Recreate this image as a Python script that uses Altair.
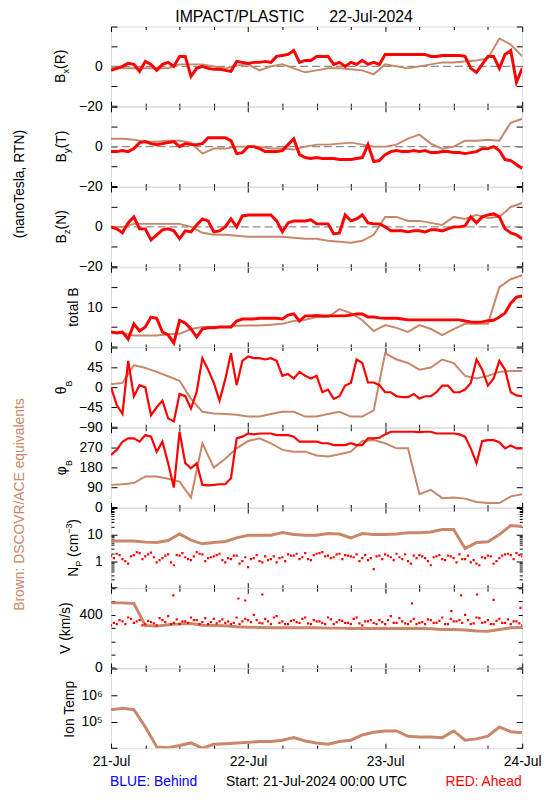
import altair as alt
import pandas as pd

# ---------------- data (hours since 21-Jul-2024 00:00 UTC) ----------------
H1 = list(range(73))              # hourly grid
H2 = list(range(0, 73, 2))        # two-hourly grid
HH = [h + 0.5 for h in range(72)]  # half-hour offsets

bx_red = [-2, -1, 0, 1.5, 1, -2.5, 2.5, 1, -2, 1,
          2, 0, 5, 5, -5, -1, 0, -1, -1.5, -1.5,
          -2, -2.5, 2.5, 2, 1.5, 2, 2, 2.5, 2, 5,
          5.5, 6, 8, 2, 3, 3, 5, 5, 5, 1,
          2, 0, 2, 1, 3, 1, 2, 1, 6, 6,
          6, 6, 6, 6, 6, 6, 5, 5, 5.5, 5.5,
          5.5, 5.5, 5, -1, -3, 1, 5, 5, -1, 6,
          8, -8, -1]
bx_brown = [-1, -1, -1, -1, -1, -1, 1, 1, 1, 0,
            -1, 0.5, 1, -2, 0, 1, -1, -3, -2, -1,
            -1, -1.5, -2, -4, 1, 0, -1, 0, 1, 2,
            2, 2.5, 3, 4, 14, 11, 5]

by_red = [-2.5, -2.5, -2, -2.5, -1, 2, 2.5, 1.5, 1, 1.5,
          2, 2.5, 0, 1.5, 1, 1, 1.5, 4.5, 4.5, 4.5,
          4.5, 3, -3.5, -3, 0, 0, -1, -2.5, -2.5, -2.5,
          -2, 1, 4, -4, -5.5, -6, -5.5, -6, -6, -6,
          -6.5, -6.5, -6.5, -6, -5.5, 1, -7.5, -7, -4, -2.5,
          -2, -2.5, -2.5, -2, -2.5, -2, -3, -3, -2.5, -2.5,
          -3, -3, -3.5, -3, -2.5, -1, -1, 0, -2, -6.5,
          -7, -9, -11]
by_brown = [4, 4, 3.5, 2.5, 2.5, 3, 3, 2, -3.5, -1,
            -1, 0, 0, 0, -1, -1, -1.5, 0, 1, 1,
            1.5, 2, 1, 0, 0, 1, 4, 6, 1.5, -1,
            0, 3, 3, 3.5, 3, 12, 14]

bz_red = [0, -1, -3, 2, 5, -1, -1, -6.5, -4, -1.5,
          -1, -2, -6, -2, -2.5, 1, 4, 3, -2.5, -2,
          0, 4, 0, 5.5, 6, 6, 6, 6, 6, 3,
          -2.5, 2, 3, 3, 3, 3.5, 1.5, 1.5, 1.5, -3.5,
          -3, 6, 3, 4, 6, 2, 1.5, 1.5, 0, -2,
          -2, -2, -2.5, -2, -2, -2.5, -1.5, -1.5, -2, -1,
          0, 0, 0.5, 5, 2, 5, 6, 6.5, 5, -1,
          -3, -4, -6]
bz_brown = [0, 0, 1.5, 1.5, 1.5, 1.5, 1.5, 0, -3, -4,
            -4, -4.5, -5, -5, -5, -5, -5.5, -6, -6, -7,
            -7.5, -8, -7, -4, 5, 5, 3, 3, 2, 1,
            5, 4, 6, 4.5, 5, 10, 12]

bt_red = [3.75, 3.5, 3.75, 2, 5.8, 4, 5, 7.5, 7.2, 3.75,
          3, 1, 6.7, 6, 4.5, 2.5, 4.5, 4.8, 4.8, 5,
          5, 5, 6.5, 7, 7, 7, 7.2, 7.2, 7.2, 7.2,
          7, 8, 8.3, 6.5, 7.8, 7.8, 7.9, 7.8, 7.8, 7.8,
          7.8, 7.8, 8, 8.3, 8.3, 7.5, 7.5, 7.3, 7.2, 7.2,
          7.2, 7, 6.8, 6.8, 6.8, 6.8, 6.8, 6.8, 6.8, 6.8,
          6.8, 6.8, 6.5, 6.3, 6.2, 6.3, 6.6, 6.7, 7.5, 8.5,
          11, 12.5, 12.8]
bt_brown = [3.75, 3.5, 2.9, 2.9, 2.9, 3.2, 3.3, 4.5, 5, 5,
            5, 5.3, 5.4, 5.4, 5.6, 5.8, 6.5, 6.8, 7.5, 7.5,
            9.5, 8.5, 6.7, 4, 5.5, 4.8, 3.8, 5.5, 4.5, 3,
            4.5, 5.8, 5.8, 5.8, 15, 17, 18]

th_red = [0, -40, -60, 60, -20, 5, 0, -63, -45, -30,
          -70, -77, -15, -20, -48, -10, 66, 40, 10, -30,
          18, 77, 5, 60, 70, 66, 66, 63, 66, 60,
          26, 30, 20, 35, 26, 20, 26, -11, -5, -26,
          -20, 4, 10, 63, 55, 11, 11, 5, -11, -11,
          -20, -22, -22, -15, -25, -20, -20, -11, 4, 4,
          -11, -11, -5, 10, 63, 40, 4, 20, 60, 40,
          -11, -18, -20]
th_brown = [7, 10, 50, 44, 35, 25, 15, -26, -55, -59,
            -60, -62, -66, -66, -60, -55, -55, -66, -66, -60,
            -55, -66, -66, -52, 77, 63, 55, 40, 45, 63,
            55, 26, 20, 26, 35, 37, 37]

ph_red = [237, 260, 297, 312, 312, 297, 327, 320, 252, 297,
          200, 90, 342, 200, 177, 200, 102, 100, 102, 105,
          105, 132, 312, 320, 334, 330, 334, 334, 334, 327,
          327, 327, 320, 297, 297, 297, 297, 290, 290, 282,
          282, 282, 290, 282, 282, 312, 312, 315, 330, 342,
          342, 342, 342, 342, 340, 342, 342, 334, 334, 334,
          334, 330, 320, 267, 200, 300, 304, 304, 295, 267,
          280, 267, 267]
ph_brown = [102, 105, 110, 140, 140, 130, 117, 45, 290, 180,
            220, 267, 300, 312, 290, 260, 252, 252, 235, 230,
            240, 252, 300, 305, 290, 267, 267, 60, 80, 42,
            45, 40, 25, 20, 20, 50, 60]

np_red = [1.6, 1.9, 1.2, 0.8, 1.7, 2.0, 1.5, 2.1, 0.9, 1.3, 1.8, 0.7,
          1.6, 1.4, 1.1, 2.2, 1.8, 1.3, 1.5, 1.9, 0.9, 1.2, 1.6, 1.0,
          0.6, 1.3, 1.0, 1.5, 1.2, 0.9, 1.4, 1.8, 1.6, 1.2, 2.0, 1.1,
          1.9, 2.2, 1.6, 1.4, 1.9, 1.7, 1.5, 1.8, 1.3, 1.1, 0.5, 1.6,
          1.8, 1.4, 1.9, 1.2, 1.0, 1.6, 1.7, 1.3, 0.7, 1.5, 1.2, 1.6,
          1.3, 1.8, 1.2, 0.9, 0.8, 1.4, 1.6, 0.8, 1.3, 1.8, 1.7, 2.0, 1.5]
np_red_half = [1.3, 1.7, 1.0, 1.5, 2.2, 1.2, 1.8, 1.4, 1.1, 1.6, 0.9, 1.7,
               2.0, 1.2, 1.5, 1.9, 1.0, 1.4, 1.7, 1.1, 1.3, 1.6, 0.8, 1.4,
               1.2, 1.7, 0.9, 1.1, 1.5, 1.3, 1.0, 1.6, 1.9, 1.4, 1.2, 1.7,
               2.0, 1.5, 1.3, 1.8, 1.2, 1.6, 1.4, 1.0, 1.7, 1.3, 1.5, 1.2,
               1.6, 1.1, 1.4, 1.8, 0.8, 1.3, 1.5, 1.0, 1.4, 1.7, 1.1, 1.5,
               0.9, 1.2, 1.6, 1.1, 0.7, 1.3, 1.5, 1.0, 1.6, 1.9, 1.2, 1.7]
np_brown = [5.7, 5.7, 5.7, 5.2, 5.0, 6.0, 10.5, 6.2, 4.5, 5.0,
            5.5, 7.5, 9.4, 9.4, 9.4, 12, 10, 9.4, 9.4, 10.9,
            10.5, 7.5, 10.9, 10, 10, 10.5, 11.8, 11.8, 12.5, 15.6,
            15.6, 3.0, 5.0, 5.4, 10, 22, 20]

v_red = [320, 330, 350, 380, 340, 360, 330, 345, 320, 360,
         390, 340, 330, 350, 380, 360, 345, 330, 370, 350,
         340, 330, 380, 350, 360, 400, 340, 370, 330, 390,
         350, 330, 360, 340, 380, 330, 350, 340, 380, 330,
         360, 340, 330, 380, 320, 350, 340, 360, 330, 390,
         340, 350, 330, 370, 340, 330, 360, 340, 380, 330,
         350, 360, 400, 330, 380, 340, 360, 330, 370, 340,
         330, 350, 320]
v_red_half = [340, 360, 330, 370, 350, 320, 355, 335, 375, 345, 330, 365,
              350, 340, 360, 330, 375, 345, 335, 365, 350, 340, 330, 370,
              345, 360, 335, 350, 380, 340, 330, 355, 345, 370, 335, 360,
              350, 330, 365, 345, 355, 340, 370, 335, 350, 360, 330, 345,
              360, 340, 375, 335, 350, 330, 345, 365, 340, 355, 330, 370,
              350, 340, 360, 335, 375, 345, 330, 355, 340, 365, 350, 335]
v_out_h = [10.9, 22.3, 23.5, 26.5, 52.7, 59.6, 61.3, 64.1, 67.0, 71.7]
v_out = [546, 523, 508, 553, 486, 428, 546, 553, 513, 453]
v_brown = [490, 490, 485, 320, 315, 325, 332, 335, 322, 320,
           318, 310, 307, 305, 303, 302, 302, 302, 302, 300,
           300, 297, 297, 297, 297, 297, 297, 297, 295, 290,
           289, 285, 278, 277, 290, 302, 305]

t_brown = [282000, 316000, 282000, 63000, 11200, 10500, 12600, 15800, 10000, 14100,
           14800, 15800, 16600, 17800, 17800, 20000, 25000, 18600, 15800, 14100,
           17800, 20000, 31600, 39800, 44700, 44700, 28200, 26300, 26300, 25000,
           44700, 20000, 22400, 28200, 63000, 41700, 38000]

DAY_LABELS = ["21-Jul", "22-Jul", "23-Jul", "24-Jul"]

# ---------------- styling ----------------
W, H = 415, 80.44
FONT = "Liberation Sans"
RED = "#ff0000"
BROWN = "#c98769"
XT = list(range(0, 73, 6))
ONE = pd.DataFrame({"a": [0]})
PANEL9_TOP = 8 * H

EM = {"B": .667, "R": .722, "T": .611, "N": .722, "(": .333, ")": .333, "x": .5,
      "y": .5, "z": .5, "t": .278, "o": .556, "a": .556, "l": .222, " ": .278,
      "θ": .556, "φ": .656, "P": .667, "c": .5, "m": .833, "−": .584, "3": .556,
      "V": .667, "k": .5, "/": .278, "s": .5, "I": .278, "n": .556, "e": .556,
      "p": .556}


def tw(s, size):
    return sum(EM.get(c, .556) for c in s) * size


def df(hours, vals):
    return pd.DataFrame({"h": hours, "v": vals})


def txt(text, x, y, size=14, color="black", angle=0, align="center", baseline="middle"):
    return alt.Chart(ONE).mark_text(
        text=text, fontSize=size, font=FONT, color=color, angle=angle,
        align=align, baseline=baseline).encode(x=alt.value(x), y=alt.value(y))


def title_layers(segs, xc, yc=H / 2):
    total = sum(tw(t, s) for t, s, sh in segs)
    y = yc + total / 2
    out = []
    for t, s, sh in segs:
        lead = len(t) - len(t.lstrip(" "))
        y -= lead * EM[" "] * s
        t2 = t.lstrip(" ")
        out.append(txt(t2, xc + sh, y, size=s, angle=270, align="left"))
        y -= tw(t2, s)
    return out


def ticks_x(orient):
    return alt.Axis(orient=orient, offset=-H, values=XT, labels=False, domain=False,
                    grid=False, title=None, tickColor="black", tickWidth=1,
                    tickSize={"condition": {"test": "datum.value % 24 === 0", "value": 5},
                              "value": 3})


def ticks_y(orient, vals, size):
    return alt.Axis(orient=orient, offset=-W, values=vals, labels=False, domain=False,
                    grid=False, title=None, tickColor="black", tickWidth=1, tickSize=size)


def panel(reds, brown_df, ydom, tick_vals, tick_size, label_vals, title_segs, title_x,
          ylog=False, label_expr=None, zero=False, brown_w=2.0, extras=(), last=False):
    xs = alt.Scale(domain=[0, 72], nice=False, zero=False)
    if ylog:
        ys = alt.Scale(type="log", domain=ydom, nice=False)
    else:
        ys = alt.Scale(domain=ydom, nice=False, zero=False)
    if last:
        xlab = alt.Axis(orient="bottom", values=[0, 24, 48, 72],
                        labelExpr="['%s','%s','%s','%s'][round(datum.value/24)]" % tuple(DAY_LABELS),
                        ticks=False, domain=False, grid=False, title=None, labelFlush=False,
                        labelOverlap=False, labelPadding=6, labelFontSize=14, labelFont=FONT,
                        labelColor="black")
    else:
        xlab = None
    kw = dict(orient="left", values=label_vals, ticks=False, domain=False, grid=False,
              title=None, labelFlush=False, labelOverlap=False, labelPadding=9,
              labelFontSize=14, labelFont=FONT, labelColor="black")
    if label_expr:
        kw["labelExpr"] = label_expr
    layers = []
    if zero:
        layers.append(alt.Chart(pd.DataFrame({"v": [0]})).mark_rule(
            color="#8c8c8c", strokeDash=[8, 4], strokeWidth=1.2).encode(
            y=alt.Y("v:Q", scale=ys, axis=None)))
    layers.append(alt.Chart(brown_df).mark_line(color=BROWN, strokeWidth=brown_w, clip=True).encode(
        x=alt.X("h:Q", scale=xs, axis=xlab), y=alt.Y("v:Q", scale=ys, axis=alt.Axis(**kw))))
    for i, (d, kind, sw) in enumerate(reds):
        if kind == "line":
            m = alt.Chart(d).mark_line(color=RED, strokeWidth=sw, clip=True)
        else:
            m = alt.Chart(d).mark_square(color=RED, size=sw, opacity=1, clip=True)
        xa = ticks_x("top") if i == 0 else None
        ya = ticks_y("right", tick_vals, tick_size) if i == 0 else None
        layers.append(m.encode(x=alt.X("h:Q", scale=xs, axis=xa),
                               y=alt.Y("v:Q", scale=ys, axis=ya)))
    layers.append(alt.Chart(reds[0][0]).mark_point(opacity=0).encode(
        x=alt.X("h:Q", scale=xs, axis=ticks_x("bottom")),
        y=alt.Y("v:Q", scale=ys, axis=ticks_y("left", tick_vals, tick_size))))
    layers += title_layers(title_segs, title_x)
    layers += list(extras)
    return alt.layer(*layers).resolve_axis(x="independent", y="independent").properties(
        width=W, height=H)


B_TICKS = [-20, -10, 0, 10, 20]
DEC_TEST = "abs(log(datum.value)/LN10 - round(log(datum.value)/LN10)) < 0.01 ? 6 : 3"
NP_TICKS = [m * d for d in (0.1, 1, 10) for m in range(1, 10)] + [100]

BOTTOM_Y = 785 - 27 - PANEL9_TOP
top_extras = [
    txt("IMPACT/PLASTIC", 130, -5, size=16, baseline="alphabetic"),
    txt("22-Jul-2024", 262.5, -5, size=16, baseline="alphabetic"),
    txt("(nanoTesla, RTN)", -91.5, 159, size=14, angle=270),
    txt("Brown: DSCOVR/ACE equivalents", -91.5, 482.5, size=14, angle=270, color=BROWN),
]
bottom_extras = [
    txt("BLUE: Behind", 43, BOTTOM_Y, size=14, color="#0000ff"),
    txt("Start: 21-Jul-2024 00:00 UTC", 207.5, BOTTOM_Y, size=14),
    txt("RED: Ahead", 376, BOTTOM_Y, size=14, color=RED),
]

p1 = panel([(df(H1, bx_red), "line", 3)], df(H2, bx_brown), [-20, 20], B_TICKS, 6, [0, -20],
           [("B", 14, 0), ("x", 10, 5), ("(R)", 14, 0)], -50.5, zero=True, extras=top_extras)
p2 = panel([(df(H1, by_red), "line", 3)], df(H2, by_brown), [-20, 20], B_TICKS, 6, [0, -20],
           [("B", 14, 0), ("y", 10, 5), ("(T)", 14, 0)], -49.5, zero=True)
p3 = panel([(df(H1, bz_red), "line", 3)], df(H2, bz_brown), [-20, 20], B_TICKS, 6, [0, -20],
           [("B", 14, 0), ("z", 10, 5), ("(N)", 14, 0)], -49.5, zero=True)
p4 = panel([(df(H1, bt_red), "line", 3)], df(H2, bt_brown), [0, 20], [0, 5, 10, 15, 20], 6, [10, 0],
           [("total B", 14, 0)], -37.5)
p5 = panel([(df(H1, th_red), "line", 2.2)], df(H2, th_brown), [-90, 90], [-90, -45, 0, 45, 90], 6,
           [45, 0, -45, -90], [("θ", 14, 0), ("B", 9, 7)], -49)
p6 = panel([(df(H1, ph_red), "line", 2.2)], df(H2, ph_brown), [0, 360], [0, 90, 180, 270, 360], 6,
           [270, 180, 90, 0], [("φ", 14, 0), ("B", 9, 7)], -49)
p7 = panel([(df(H1, np_red), "square", 5), (df(HH, np_red_half), "square", 5)], df(H2, np_brown),
           [0.1, 100], NP_TICKS, {"expr": DEC_TEST}, [10, 1],
           [("N", 14, 0), ("P", 9, 5), (" (cm", 14, 0), ("−3", 9, -5), (")", 14, 0)], -37.5,
           ylog=True, brown_w=3)
p8 = panel([(df(H1, v_red), "square", 5), (df(HH, v_red_half), "square", 5),
            (df(v_out_h, v_out), "square", 5)], df(H2, v_brown), [0, 600],
           [0, 100, 200, 300, 400, 500, 600], 4, [400, 0], [("V (km/s)", 14, 0)], -45.5, brown_w=3)
p9 = panel([(df(H2, t_brown), "line", 0)], df(H2, t_brown), [1e4, 1e7], [1e4, 1e5, 1e6, 1e7], 6,
           [1e6, 1e5], [("Ion Temp", 14, 0)], -41.5, ylog=True,
           label_expr="datum.value >= 1e6 ? '10⁶' : '10⁵'", brown_w=3, extras=bottom_extras, last=True)

chart = alt.vconcat(p1, p2, p3, p4, p5, p6, p7, p8, p9, spacing=0, bounds="flush").properties(
    padding={"left": 5, "top": -4, "right": 0, "bottom": 5}
).configure_view(stroke="black", strokeWidth=1.5).configure(background="white")

chart.save("out.html", embed_options={"renderer": "svg", "actions": False})
